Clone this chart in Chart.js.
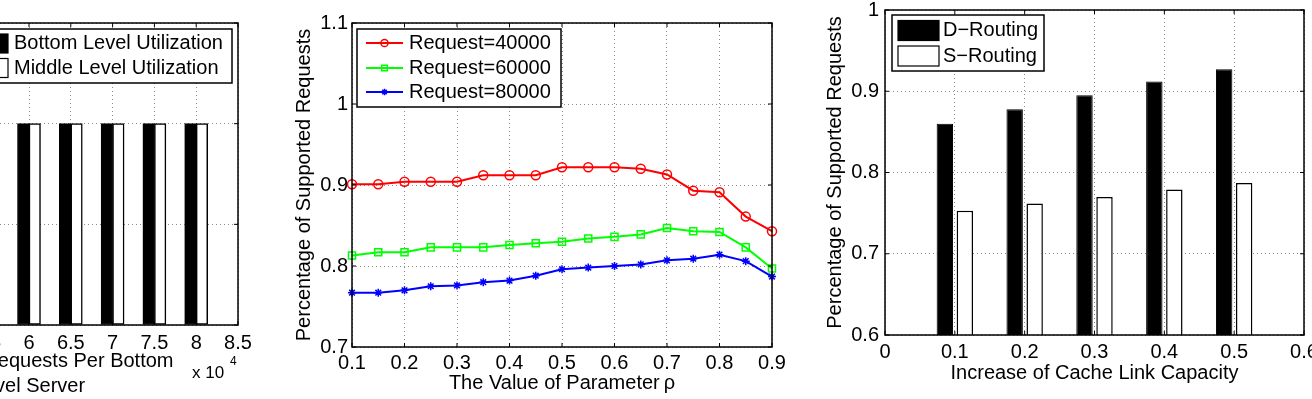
<!DOCTYPE html>
<html>
<head>
<meta charset="utf-8">
<script src="https://cdn.jsdelivr.net/npm/chart.js@4.4.0/dist/chart.umd.min.js"></script>
<style>
html, body { margin: 0; padding: 0; background: #fff; }
#wrap { position: relative; width: 1312px; height: 399px; overflow: hidden; }
.panel { position: absolute; top: 0; }
</style>
</head>
<body>
<div id="wrap">
  <div class="panel" style="left:-200px"><canvas id="c1" width="460" height="399"></canvas></div>
  <div class="panel" style="left:280px"><canvas id="c2" width="520" height="399"></canvas></div>
  <div class="panel" style="left:820px"><canvas id="c3" width="492" height="399"></canvas></div>
</div>
<script>
// ---- data ----
// left panel: utilization vs. requests per bottom level server (x 10^4)
var utilX = [6, 6.5, 7, 7.5, 8];
var bottomUtil = [1, 1, 1, 1, 1];
var middleUtil = [1, 1, 1, 1, 1];

// middle panel: supported requests vs rho
var rhoX = [0.1, 0.15, 0.2, 0.25, 0.3, 0.35, 0.4, 0.45, 0.5, 0.55, 0.6, 0.65, 0.7, 0.75, 0.8, 0.85, 0.9];
var req40000 = [0.901, 0.901, 0.904, 0.904, 0.904, 0.912, 0.912, 0.912, 0.922, 0.922, 0.922, 0.920, 0.913, 0.893, 0.891, 0.861, 0.843];
var req60000 = [0.813, 0.817, 0.817, 0.823, 0.823, 0.823, 0.826, 0.828, 0.830, 0.834, 0.836, 0.839, 0.847, 0.843, 0.842, 0.823, 0.797];
var req80000 = [0.767, 0.767, 0.770, 0.775, 0.776, 0.780, 0.782, 0.788, 0.796, 0.798, 0.800, 0.802, 0.807, 0.809, 0.814, 0.806, 0.787];

// right panel: routing vs cache link capacity
var capX = [0.1, 0.2, 0.3, 0.4, 0.5];
var dRouting = [0.860, 0.878, 0.895, 0.912, 0.927];
var sRouting = [0.753, 0.762, 0.770, 0.779, 0.787];

function pts(xs, ys) {
  return xs.map(function(x, i){ return {x: x, y: ys[i]}; });
}

Chart.defaults.font.family = "'Liberation Sans', Arial, Helvetica, sans-serif";
Chart.defaults.font.size = 20;
Chart.defaults.color = '#000';

var FONT = "20px 'Liberation Sans', Arial, Helvetica, sans-serif";
var DOT = 'rgba(0,0,0,0.45)';

// matlab prints 1 not 1.0
function tickFmt(v) {
  return String(Number(v.toFixed(3)));
}

// fixed axis sizes so the plot boxes land where they are in the figure
function fixW(w) {
  return function(s){ s.width = w; s.paddingTop = 0; s.paddingBottom = 0; };
}
function fixH(h) {
  return function(s){ s.height = h; s.paddingLeft = 0; s.paddingRight = 0; };
}

function drawLegend(chart, lg) {
  var ctx = chart.ctx;
  ctx.save();
  ctx.fillStyle = '#fff';
  ctx.fillRect(lg.left, lg.top, lg.width, lg.height);
  ctx.lineWidth = 1.5;
  ctx.strokeStyle = '#000';
  ctx.strokeRect(lg.left, lg.top, lg.width, lg.height);
  ctx.font = FONT;
  ctx.textBaseline = 'middle';
  ctx.textAlign = 'left';
  chart.data.datasets.forEach(function(ds, i){
    var y = lg.rows[i];
    if (lg.kind === 'line') {
      ctx.strokeStyle = ds.borderColor;
      ctx.lineWidth = ds.borderWidth;
      ctx.beginPath();
      ctx.moveTo(lg.sampleX, y);
      ctx.lineTo(lg.sampleX + lg.sampleW, y);
      ctx.stroke();
      ctx.fillStyle = ds.pointBackgroundColor;
      ctx.lineWidth = ds.pointBorderWidth;
      Chart.helpers.drawPoint(ctx, {
        pointStyle: ds.pointStyle, rotation: 0,
        radius: ds.pointRadius * 0.8, borderWidth: ds.pointBorderWidth
      }, lg.sampleX + lg.sampleW / 2, y);
    } else {
      ctx.fillStyle = ds.backgroundColor;
      ctx.fillRect(lg.sampleX, y - lg.sampleH / 2, lg.sampleW, lg.sampleH);
      ctx.strokeStyle = '#000';
      ctx.lineWidth = 1.2;
      ctx.strokeRect(lg.sampleX, y - lg.sampleH / 2, lg.sampleW, lg.sampleH);
    }
    ctx.fillStyle = '#000';
    ctx.fillText(ds.label, lg.textX, y);
  });
  ctx.restore();
}

// matlab style: closed box, inward ticks, boxed legend
var matlabBox = {
  id: 'matlabBox',
  afterDraw: function(chart, args, opts) {
    var ctx = chart.ctx, a = chart.chartArea;
    var xs = chart.scales.x, ys = chart.scales.y;
    ctx.save();
    ctx.strokeStyle = '#000';
    ctx.lineWidth = 1;
    ctx.beginPath();
    xs.ticks.forEach(function(t){
      var px = xs.getPixelForValue(t.value);
      ctx.moveTo(px, a.bottom); ctx.lineTo(px, a.bottom - 4);
      ctx.moveTo(px, a.top); ctx.lineTo(px, a.top + 4);
    });
    ys.ticks.forEach(function(t){
      var py = ys.getPixelForValue(t.value);
      ctx.moveTo(a.left, py); ctx.lineTo(a.left + 4, py);
      ctx.moveTo(a.right, py); ctx.lineTo(a.right - 4, py);
    });
    ctx.stroke();
    ctx.lineWidth = 1.5;
    ctx.strokeRect(a.left, a.top, a.right - a.left, a.bottom - a.top);
    if (opts.note) {
      ctx.fillStyle = '#000';
      ctx.textBaseline = 'middle';
      ctx.textAlign = 'left';
      ctx.font = "17px 'Liberation Sans', Arial, sans-serif";
      ctx.fillText(opts.note.text, opts.note.x, opts.note.y);
      ctx.font = "12px 'Liberation Sans', Arial, sans-serif";
      ctx.fillText(opts.note.sup, opts.note.supX, opts.note.supY);
    }
    ctx.restore();
    if (opts.legend) drawLegend(chart, opts.legend);
  }
};

function gridOpts() {
  return { color: DOT, lineWidth: 1, drawTicks: false, offset: false };
}

// ---- left panel ----
new Chart(document.getElementById('c1'), {
  type: 'bar',
  data: {
    datasets: [{
      label: 'Bottom Level Utilization',
      data: pts(utilX, bottomUtil),
      backgroundColor: '#000',
      borderColor: '#000',
      borderWidth: 1,
      borderSkipped: false,
      barThickness: 11.5
    }, {
      label: 'Middle Level Utilization',
      data: pts(utilX, middleUtil),
      backgroundColor: '#fff',
      borderColor: '#000',
      borderWidth: 1.5,
      borderSkipped: false,
      barThickness: 11.5
    }]
  },
  options: {
    responsive: false,
    animation: false,
    devicePixelRatio: 1,
    events: [],
    layout: { padding: { left: 0, top: 23, right: 22, bottom: 0 } },
    plugins: {
      legend: { display: false },
      tooltip: { enabled: false },
      matlabBox: {
        legend: { kind: 'bar', left: 161, top: 29, width: 271, height: 54,
                  rows: [43.5, 68], sampleX: 169, sampleW: 39, sampleH: 19, textX: 214 },
        note: { text: 'x 10', x: 392, y: 373, sup: '4', supX: 430, supY: 362 }
      }
    },
    scales: {
      x: {
        type: 'linear', offset: false,
        min: 3.5, max: 8.5,
        ticks: { stepSize: 0.5, autoSkip: false, maxRotation: 0, padding: 6, callback: tickFmt },
        grid: gridOpts(),
        border: { display: false, dash: [1, 3] },
        title: { display: true, text: ['Number of Requests Per Bottom', 'Level Server'],
                 font: { size: 20, lineHeight: 1.25 }, padding: { top: 0, bottom: 0 } },
        afterFit: fixH(74)
      },
      y: {
        min: 0, max: 1.5,
        ticks: { stepSize: 0.5, padding: 4, callback: tickFmt },
        grid: gridOpts(),
        border: { display: false, dash: [1, 3] },
        afterFit: fixW(20)
      }
    }
  },
  plugins: [matlabBox]
});

// ---- middle panel ----
new Chart(document.getElementById('c2'), {
  type: 'line',
  data: {
    datasets: [{
      label: 'Request=40000',
      data: pts(rhoX, req40000),
      borderColor: '#ff0000',
      borderWidth: 2,
      pointStyle: 'circle',
      pointRadius: 4.5,
      pointBorderWidth: 1.5,
      pointBorderColor: '#ff0000',
      pointBackgroundColor: 'rgba(0,0,0,0)',
      tension: 0,
      clip: false
    }, {
      label: 'Request=60000',
      data: pts(rhoX, req60000),
      borderColor: '#00ff00',
      borderWidth: 2,
      pointStyle: 'rect',
      pointRadius: 5,
      pointBorderWidth: 1.5,
      pointBorderColor: '#00ff00',
      pointBackgroundColor: 'rgba(0,0,0,0)',
      tension: 0,
      clip: false
    }, {
      label: 'Request=80000',
      data: pts(rhoX, req80000),
      borderColor: '#0000ff',
      borderWidth: 2,
      pointStyle: 'star',
      pointRadius: 4,
      pointBorderWidth: 1.5,
      pointBorderColor: '#0000ff',
      pointBackgroundColor: 'rgba(0,0,0,0)',
      tension: 0,
      clip: false
    }]
  },
  options: {
    responsive: false,
    animation: false,
    devicePixelRatio: 1,
    events: [],
    layout: { padding: { left: 0, top: 23, right: 28, bottom: 0 } },
    plugins: {
      legend: { display: false },
      tooltip: { enabled: false },
      matlabBox: {
        legend: { kind: 'line', left: 77, top: 29, width: 204, height: 78,
                  rows: [43, 68, 92], sampleX: 86, sampleW: 37, textX: 129 }
      }
    },
    scales: {
      x: {
        type: 'linear', offset: false,
        min: 0.1, max: 0.9,
        ticks: { stepSize: 0.1, autoSkip: false, maxRotation: 0, padding: 4, callback: tickFmt },
        grid: gridOpts(),
        border: { display: false, dash: [1, 3] },
        title: { display: true, text: 'The Value of Parameter\u2009\u03c1', padding: { top: 0, bottom: 4 } },
        afterFit: fixH(52)
      },
      y: {
        min: 0.7, max: 1.1,
        ticks: { stepSize: 0.1, padding: 4, callback: tickFmt },
        grid: gridOpts(),
        border: { display: false, dash: [1, 3] },
        title: { display: true, text: 'Percentage of Supported Requests', padding: { top: 12, bottom: 0 } },
        afterFit: fixW(72)
      }
    }
  },
  plugins: [matlabBox]
});

// ---- right panel ----
new Chart(document.getElementById('c3'), {
  type: 'bar',
  data: {
    datasets: [{
      label: 'D\u2212Routing',
      data: pts(capX, dRouting),
      backgroundColor: '#000',
      borderColor: '#000',
      borderWidth: 1,
      borderSkipped: false,
      categoryPercentage: 0.573,
      barPercentage: 0.82
    }, {
      label: 'S\u2212Routing',
      data: pts(capX, sRouting),
      backgroundColor: '#fff',
      borderColor: '#000',
      borderWidth: 1.5,
      borderSkipped: false,
      categoryPercentage: 0.573,
      barPercentage: 0.82
    }]
  },
  options: {
    responsive: false,
    animation: false,
    devicePixelRatio: 1,
    events: [],
    layout: { padding: { left: 0, top: 10, right: 8, bottom: 0 } },
    plugins: {
      legend: { display: false },
      tooltip: { enabled: false },
      matlabBox: {
        legend: { kind: 'bar', left: 72, top: 15, width: 152, height: 56,
                  rows: [30.5, 56], sampleX: 78, sampleW: 41, sampleH: 20, textX: 123 }
      }
    },
    scales: {
      x: {
        type: 'linear', offset: false,
        min: 0, max: 0.6,
        ticks: { stepSize: 0.1, autoSkip: false, maxRotation: 0, padding: 5, callback: tickFmt },
        grid: gridOpts(),
        border: { display: false, dash: [1, 3] },
        title: { display: true, text: 'Increase of Cache Link Capacity', padding: { top: 0, bottom: 14 } },
        afterFit: fixH(64)
      },
      y: {
        min: 0.6, max: 1,
        ticks: { stepSize: 0.1, padding: 6, callback: tickFmt },
        grid: gridOpts(),
        border: { display: false, dash: [1, 3] },
        title: { display: true, text: 'Percentage of Supported Requests', padding: { top: 3, bottom: 0 } },
        afterFit: fixW(65)
      }
    }
  },
  plugins: [matlabBox]
});
</script>
</body>
</html>
